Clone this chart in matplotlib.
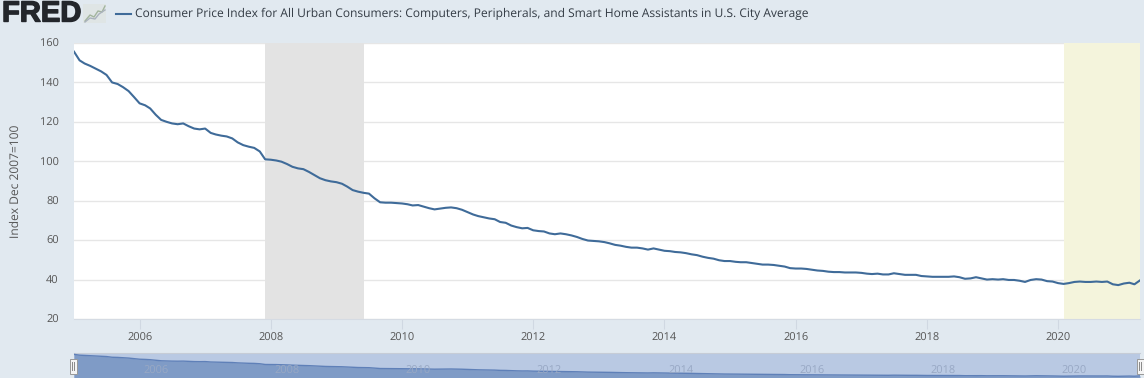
import numpy as np
import pandas as pd
import matplotlib
matplotlib.use("Agg")
from matplotlib import pyplot as plt
from matplotlib import patheffects

W = 1144
H = 378

# monthly values, Jan 2005 - Apr 2021
cpi_2005 = [155.6, 151.2, 149.6, 148.4, 147.0, 145.6, 143.8, 140.0, 139.2, 137.6, 135.6, 132.6]
cpi_2006 = [129.4, 128.4, 126.8, 123.6, 121.0, 120.0, 119.2, 118.8, 119.2, 117.8, 116.6, 116.2]
cpi_2007 = [116.6, 114.4, 113.6, 113.0, 112.6, 111.6, 109.6, 108.2, 107.4, 106.8, 105.0, 101.0]
cpi_2008 = [100.8, 100.4, 99.8, 98.6, 97.2, 96.4, 96.0, 94.6, 93.0, 91.4, 90.4, 89.8]
cpi_2009 = [89.4, 88.6, 87.2, 85.4, 84.6, 84.0, 83.6, 81.2, 79.2, 79.0, 79.0, 78.8]
cpi_2010 = [78.6, 78.2, 77.6, 77.8, 77.0, 76.2, 75.6, 76.0, 76.4, 76.6, 76.2, 75.4]
cpi_2011 = [74.2, 73.0, 72.2, 71.6, 71.0, 70.6, 69.2, 68.8, 67.4, 66.6, 66.0, 66.2]
cpi_2012 = [65.0, 64.6, 64.4, 63.4, 63.0, 63.4, 63.0, 62.4, 61.6, 60.6, 59.8, 59.6]
cpi_2013 = [59.4, 59.0, 58.4, 57.6, 57.2, 56.6, 56.2, 56.2, 55.8, 55.2, 55.8, 55.2]
cpi_2014 = [54.6, 54.4, 54.0, 53.8, 53.4, 52.8, 52.4, 51.6, 51.0, 50.6, 49.8, 49.4]
cpi_2015 = [49.4, 49.0, 48.8, 48.8, 48.4, 48.0, 47.6, 47.6, 47.4, 47.0, 46.6, 45.8]
cpi_2016 = [45.6, 45.6, 45.4, 45.0, 44.6, 44.4, 44.0, 43.8, 43.8, 43.6, 43.6, 43.6]
cpi_2017 = [43.4, 43.0, 42.8, 43.0, 42.6, 42.6, 43.2, 42.8, 42.4, 42.4, 42.4, 41.8]
cpi_2018 = [41.6, 41.4, 41.4, 41.4, 41.4, 41.6, 41.2, 40.4, 40.6, 41.2, 40.6, 40.0]
cpi_2019 = [40.2, 40.0, 40.2, 39.8, 39.8, 39.4, 38.8, 39.8, 40.2, 40.0, 39.2, 39.0]
cpi_2020 = [38.2, 37.8, 38.2, 38.8, 39.0, 38.8, 38.8, 39.0, 38.8, 39.0, 37.6, 37.2]
cpi_2021 = [38.0, 38.4, 37.6, 39.6]
years = [2006, 2008, 2010, 2012, 2014, 2016, 2018, 2020]
y_ticks = [20, 40, 60, 80, 100, 120, 140, 160]
title = "Consumer Price Index for All Urban Consumers: Computers, Peripherals, and Smart Home Assistants in U.S. City Average"

values = (cpi_2005 + cpi_2006 + cpi_2007 + cpi_2008 + cpi_2009 + cpi_2010 + cpi_2011 + cpi_2012
          + cpi_2013 + cpi_2014 + cpi_2015 + cpi_2016 + cpi_2017 + cpi_2018 + cpi_2019 + cpi_2020 + cpi_2021)
dates = pd.date_range("2005-01-01", periods=len(values), freq="MS")
x_min = pd.Timestamp("2005-01-01")
x_max = dates[-1]
tick_dates = [pd.Timestamp(str(y) + "-01-01") for y in years]


def pixelAxes(fig, left, top, right, bottom):
    return fig.add_axes([left / W, 1 - bottom / H, (right - left) / W, (bottom - top) / H])


plt.rcParams["font.family"] = ["Open Sans", "DejaVu Sans"]
plt.rcParams["text.hinting"] = "no_hinting"
plt.rcParams["text.hinting_factor"] = 1
fig = plt.figure(figsize=(W / 100, H / 100), dpi=100, facecolor="#e1e9f0")

# main chart
ax = pixelAxes(fig, 74, 43, 1140, 319)
ax.set_xlim(x_min, x_max)
ax.set_ylim(20, 160)
ax.axvspan(pd.Timestamp("2007-12-01"), pd.Timestamp("2009-06-01"), color="#e3e3e3", lw=0, zorder=1)
ax.axvspan(pd.Timestamp("2020-02-01"), x_max, color="#f4f4dc", lw=0, zorder=1)
ax.grid(axis="y", color="#e6e6e6", lw=1, zorder=2)
ax.set_axisbelow(True)
ax.plot(dates, values, color="#3f6b99", lw=1.5, zorder=3, solid_joinstyle="round", clip_on=True)
for s in ["top", "left", "right"]:
    ax.spines[s].set_visible(False)
ax.spines["bottom"].set_color("#d5dbe3")
ax.set_xticks(tick_dates)
ax.set_xticklabels([str(y) for y in years], fontsize=8.2, color="#555555")
ax.set_yticks(y_ticks)
ax.set_yticklabels([str(t) for t in y_ticks], fontsize=8.2, color="#555555")
ax.tick_params(axis="x", length=7.5, width=0.8, color="#d0d8e2", pad=2)
ax.tick_params(axis="y", length=0, pad=11)
fig.text(15.5 / W, 1 - 181 / H, "Index Dec 2007=100", rotation=90, ha="center", va="center",
         fontsize=8.45, color="#555555")

# navigator strip along the bottom
nav = pixelAxes(fig, 74, 353, 1140, 378)
nav.set_facecolor("#b9c9e3")
nav.set_xlim(x_min, x_max)
nav.set_ylim(28, 163)
nav.fill_between(dates, 0, values, color="#7f9bc6", lw=0, zorder=2)
nav.plot(dates, values, color="#5f80b8", lw=1, zorder=3)
for y, d in zip(years, tick_dates):
    nav.text(d + pd.Timedelta(days=90), 65, str(y), fontsize=8.2, color="#98a8c4", ha="center",
             va="center", zorder=4, clip_on=False)
nav.set_xticks([])
nav.set_yticks([])
for s in nav.spines.values():
    s.set_visible(False)
nav.spines["top"].set_visible(True)
nav.spines["top"].set_color("#c6ccd6")

# navigator handles, in figure pixels
over = fig.add_axes([0, 0, 1, 1], facecolor="none")
over.set_xlim(0, W)
over.set_ylim(H, 0)
over.axis("off")
for hx in [73, 1140]:
    over.add_patch(plt.Rectangle((hx - 3.5, 358.5), 7, 15, fc="#f4f4f4", ec="#999999", lw=0.7, zorder=5))
    over.plot([hx - 1, hx - 1], [362, 370], color="#888888", lw=0.7, zorder=6)
    over.plot([hx + 1, hx + 1], [362, 370], color="#888888", lw=0.7, zorder=6)

# header: logo, mini chart icon, legend
logo = over.text(2, 14, "FRED", fontsize=21, fontweight="bold", family="Liberation Sans", color="#23262b",
                 ha="left", va="center")
logo.set_path_effects([patheffects.withStroke(linewidth=1.0, foreground="#23262b")])
over.add_patch(plt.Rectangle((83, 4), 23, 19, fc="#dfe5e3", ec="none", alpha=0.8))
over.plot([85, 90, 94, 98, 102, 105], [21, 15, 17, 11, 12, 6], color="#a3b59e", lw=1)
over.plot([85, 90, 95, 99, 105], [22, 18, 19, 14, 10], color="#aab2bd", lw=1)
over.plot([116, 131], [13.5, 13.5], color="#3f6b99", lw=1.5)
over.text(135, 14, title, fontsize=8.69, color="#333b44", ha="left", va="center")

fig.savefig("out.png", dpi=100, facecolor=fig.get_facecolor())
